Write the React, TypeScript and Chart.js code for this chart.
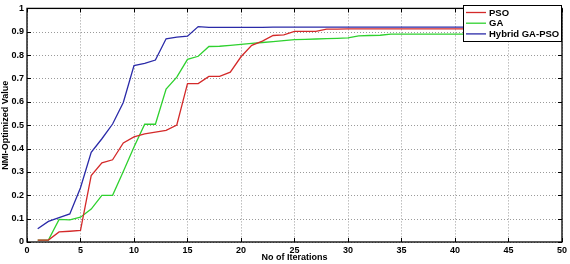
import React, { useEffect, useRef } from "react";
import { Chart, registerables } from "chart.js";

Chart.register(...registerables);

const iterations: number[] = Array.from({ length: 50 }, (_, i) => i + 1);

const psoValues: number[] = [
  0.008, 0.008, 0.043, 0.046, 0.05, 0.284, 0.339, 0.352, 0.424, 0.45,
  0.463, 0.47, 0.478, 0.501, 0.678, 0.678, 0.709, 0.709, 0.727, 0.793,
  0.842, 0.86, 0.884, 0.887, 0.902, 0.902, 0.902, 0.911, 0.911, 0.912,
  0.912, 0.912, 0.912, 0.912, 0.912, 0.912, 0.912, 0.912, 0.912, 0.912,
  0.912, 0.912, 0.912, 0.912, 0.912, 0.912, 0.912, 0.912, 0.912, 0.912,
];

const gaValues: number[] = [
  0.008, 0.008, 0.097, 0.095, 0.106, 0.141, 0.2, 0.2, 0.302, 0.407,
  0.504, 0.504, 0.655, 0.706, 0.782, 0.795, 0.837, 0.838, 0.842, 0.846,
  0.85, 0.854, 0.858, 0.862, 0.866, 0.867, 0.869, 0.871, 0.872, 0.874,
  0.882, 0.884, 0.885, 0.89, 0.89, 0.89, 0.89, 0.89, 0.89, 0.89,
  0.89, 0.89, 0.89, 0.89, 0.89, 0.89, 0.89, 0.89, 0.89, 0.89,
];

const hybridValues: number[] = [
  0.057, 0.088, 0.104, 0.12, 0.232, 0.384, 0.442, 0.505, 0.597, 0.755,
  0.765, 0.779, 0.87, 0.877, 0.881, 0.922, 0.919, 0.919, 0.919, 0.919,
  0.919, 0.919, 0.92, 0.92, 0.92, 0.92, 0.92, 0.92, 0.92, 0.92,
  0.92, 0.92, 0.92, 0.92, 0.92, 0.92, 0.92, 0.92, 0.92, 0.92,
  0.92, 0.92, 0.92, 0.92, 0.92, 0.92, 0.92, 0.92, 0.92, 0.92,
];

const seriesLabels: string[] = ["PSO", "GA", "Hybrid GA-PSO"];
const seriesColors: string[] = ["#d42a2a", "#2fd12f", "#2a2aa8"];
const xTitle = "No of Iterations";
const yTitle = "NMI-Optimized Value";

const FONT = "'Liberation Sans', Arial, sans-serif";

const gridPlugin = {
  id: "matlabGrid",
  beforeDatasetsDraw(chart: any) {
    const { ctx, chartArea } = chart;
    const { left, right, top, bottom } = chartArea;
    const xs = chart.scales.x;
    const ys = chart.scales.y;
    ctx.save();
    ctx.strokeStyle = "#9a9a9a";
    ctx.lineWidth = 1;
    ctx.setLineDash([1, 2]);
    ctx.beginPath();
    xs.ticks.forEach((t: any) => {
      const px = Math.round(xs.getPixelForValue(t.value)) + 0.5;
      ctx.moveTo(px, top);
      ctx.lineTo(px, bottom);
    });
    ys.ticks.forEach((t: any) => {
      const py = Math.round(ys.getPixelForValue(t.value)) + 0.5;
      ctx.moveTo(left, py);
      ctx.lineTo(right, py);
    });
    ctx.stroke();
    ctx.restore();
  },
};

const boxPlugin = {
  id: "matlabBox",
  afterDatasetsDraw(chart: any) {
    const { ctx, chartArea } = chart;
    const { left, right, top, bottom } = chartArea;
    const xs = chart.scales.x;
    const ys = chart.scales.y;
    ctx.save();
    ctx.strokeStyle = "#000";
    ctx.lineWidth = 1;
    ctx.beginPath();
    xs.ticks.forEach((t: any) => {
      const px = Math.round(xs.getPixelForValue(t.value)) + 0.5;
      ctx.moveTo(px, bottom);
      ctx.lineTo(px, bottom - 4);
      ctx.moveTo(px, top);
      ctx.lineTo(px, top + 4);
    });
    ys.ticks.forEach((t: any) => {
      const py = Math.round(ys.getPixelForValue(t.value)) + 0.5;
      ctx.moveTo(left, py);
      ctx.lineTo(left + 4, py);
      ctx.moveTo(right, py);
      ctx.lineTo(right - 4, py);
    });
    ctx.stroke();
    ctx.lineWidth = 1.3;
    ctx.strokeRect(left, top, right - left, bottom - top);

    // legend
    const lx = 463;
    const ly = 5;
    const lw = 98;
    const lh = 36;
    ctx.fillStyle = "#fff";
    ctx.fillRect(lx, ly, lw, lh);
    ctx.lineWidth = 1;
    ctx.strokeStyle = "#000";
    ctx.strokeRect(lx + 0.5, ly + 0.5, lw, lh);
    ctx.font = `bold 9.5px ${FONT}`;
    ctx.textBaseline = "middle";
    ctx.textAlign = "left";
    chart.data.datasets.forEach((ds: any, i: number) => {
      const yy = ly + 7.5 + i * 10.7;
      ctx.strokeStyle = ds.borderColor;
      ctx.lineWidth = 1.3;
      ctx.beginPath();
      ctx.moveTo(lx + 3, yy);
      ctx.lineTo(lx + 23, yy);
      ctx.stroke();
      ctx.fillStyle = "#000";
      ctx.fillText(ds.label, lx + 26, yy + 0.5);
    });
    ctx.restore();
  },
};

export default function App() {
  const canvasRef = useRef<HTMLCanvasElement | null>(null);

  useEffect(() => {
    document.body.style.margin = "0";
    const canvas = canvasRef.current;
    if (!canvas) return;
    const values = [psoValues, gaValues, hybridValues];
    const chart = new Chart(canvas, {
      type: "line",
      data: {
        labels: iterations,
        datasets: values.map((v, i) => ({
          label: seriesLabels[i],
          data: iterations.map((x, j) => ({ x, y: v[j] })),
          borderColor: seriesColors[i],
          backgroundColor: seriesColors[i],
          borderWidth: 1.3,
          pointRadius: 0,
          tension: 0,
          fill: false,
        })),
      },
      options: {
        animation: false,
        responsive: false,
        maintainAspectRatio: false,
        devicePixelRatio: 1,
        layout: { padding: { left: 0, right: 8, top: 4, bottom: 0 } },
        plugins: {
          legend: { display: false },
          tooltip: { enabled: false },
        },
        scales: {
          x: {
            type: "linear",
            min: 0,
            max: 50,
            ticks: {
              stepSize: 5,
              color: "#000",
              font: { family: FONT, size: 9, weight: "bold" },
              padding: 3,
              maxRotation: 0,
            },
            grid: { display: false, drawTicks: false },
            border: { display: false },
            title: {
              display: true,
              text: xTitle,
              color: "#000",
              font: { family: FONT, size: 9, weight: "bold" },
              padding: { top: 0, bottom: 1.5 },
            },
            afterFit: (scale: any) => {
              scale.height = 22;
            },
          },
          y: {
            type: "linear",
            min: 0,
            max: 1,
            ticks: {
              stepSize: 0.1,
              color: "#000",
              font: { family: FONT, size: 9, weight: "bold" },
              padding: 3,
              callback: (v: any) => String(Math.round(Number(v) * 10) / 10),
            },
            grid: { display: false, drawTicks: false },
            border: { display: false },
            title: {
              display: true,
              text: yTitle,
              color: "#000",
              font: { family: FONT, size: 9, weight: "bold" },
              padding: { top: 0, bottom: 0 },
            },
            afterFit: (scale: any) => {
              scale.width = 27;
            },
          },
        },
      },
      plugins: [gridPlugin, boxPlugin],
    } as any);
    return () => chart.destroy();
  }, []);

  return (
    <div style={{ width: 570, height: 264, background: "#fff" }}>
      <canvas ref={canvasRef} width={570} height={264} style={{ display: "block" }} />
    </div>
  );
}
